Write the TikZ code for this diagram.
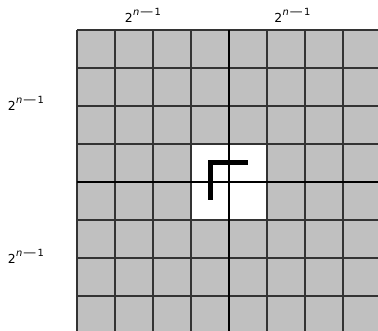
\documentclass[tikz,border=0pt]{standalone}
\usepackage{fontspec}
\setmainfont{DejaVu Sans}
\definecolor{cellgray}{RGB}{192,192,192}
\tikzset{board/.style={x=1pt,y=-1pt,font=\fontsize{12.4}{14}\selectfont}}
\tikzset{cellline/.style={black!80,line width=1.2pt},
         midline/.style={black,line width=2.3pt},
         tromino/.style={black,line width=4.5pt,line join=miter},
         sidelabel/.style={anchor=base,inner sep=0pt}}
\newcommand{\halfside}{2\kern0.3pt\raisebox{7pt}{\fontsize{9.9}{10}\selectfont
  \textit{n}\kern-0.5pt\scalebox{1.9}[1]{−}1}}

\begin{document}
\begin{tikzpicture}[board]
    \def\c{38}
    \useasboundingbox (0,0) rectangle (378,331);
    \clip (0,0) rectangle (378,331);
    \fill[cellgray] (77,30) rectangle ({77+8*\c},{30+8*\c});
    \fill[white] ({77+3*\c},{30+3*\c}) rectangle ({77+5*\c},{30+5*\c}); % missing square
    \foreach \i in {0,...,8} {
      \draw[cellline] ({77+\i*\c},30) -- ({77+\i*\c},{30+8*\c});
      \draw[cellline] (77,{30+\i*\c}) -- ({77+8*\c},{30+\i*\c});
    }
    \draw[midline] ({77+4*\c},30) -- ({77+4*\c},{30+8*\c});
    \draw[midline] (77,{30+4*\c}) -- ({77+8*\c},{30+4*\c});
    \draw[tromino] (210.7,200) -- (210.7,162.5) -- (248.3,162.5);
    \node[sidelabel] (topleft)  at (143,22.5)  {\halfside};
    \node[sidelabel] (topright) at (292.5,22.5) {\halfside};
    \node[sidelabel] (lefttop)  at (26,111)   {\halfside};
    \node[sidelabel] (leftbot)  at (26,264)   {\halfside};
  \end{tikzpicture}
\end{document}
